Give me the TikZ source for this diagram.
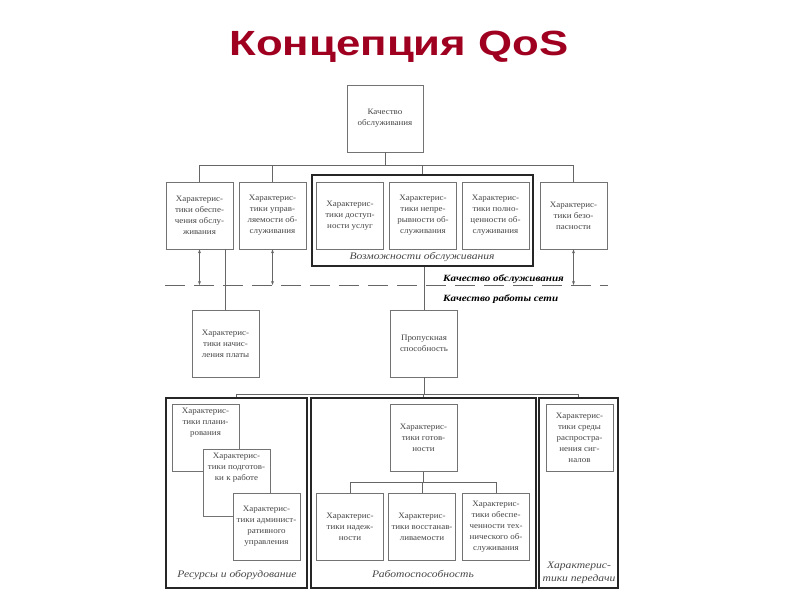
\documentclass[tikz,border=0pt]{standalone}
\usepackage{fontspec}
\setmainfont{Liberation Serif}[FakeStretch=1.16]
\newfontfamily\boxfont{Liberation Serif}[FakeStretch=1.08]
\newfontfamily\titlefont{Liberation Sans}[FakeStretch=1.25]
\usetikzlibrary{arrows.meta}
\definecolor{qosred}{RGB}{160,0,32}
\definecolor{boxtext}{RGB}{70,70,70}
\tikzset{
  box/.style={draw=black!55, line width=0.8pt, fill=white, minimum width=67pt, minimum height=67pt,
    inner sep=1pt, align=center, text=boxtext, font=\boxfont\fontsize{8.3}{11}\selectfont},
  boxtxt/.style={align=center, text=boxtext, inner sep=1pt, font=\boxfont\fontsize{8.3}{11}\selectfont},
  grp/.style={draw=black!85, line width=1.6pt, inner sep=0pt},
  link/.style={draw=black!60, line width=0.8pt},
  tag/.style={text=boxtext, align=center, font=\fontsize{10}{13}\selectfont\itshape},
  lvl/.style={anchor=west, inner sep=0pt, font=\fontsize{9.5}{11}\selectfont\bfseries\itshape},
  twoway/.style={link, {Stealth[length=4pt,width=3pt]}-{Stealth[length=4pt,width=3pt]}}
}
\begin{document}
\begin{tikzpicture}[x=1pt, y=-1pt]
  \useasboundingbox (0,0) rectangle (800,600);
  \node[text=qosred, font=\titlefont\fontsize{35}{40}\selectfont\bfseries] (title) at (399,47) {Концепция QoS};

  \node[box, minimum width=76pt] (top) at (385,118.5) {Качество\\обслуживания};

  \node[grp, minimum width=221pt, minimum height=91pt] (capgrp) at (422.5,220.5) {};
  \node[box] (r1) at (199.5,215.5) {Характерис-\\тики обеспе-\\чения обслу-\\живания};
  \node[box] (r2) at (272.5,215.5) {Характерис-\\тики управ-\\ляемости об-\\служивания};
  \node[box] (r3) at (350,215.5) {Характерис-\\тики доступ-\\ности услуг};
  \node[box] (r4) at (423,215.5) {Характерис-\\тики непре-\\рывности об-\\служивания};
  \node[box] (r5) at (495.5,215.5) {Характерис-\\тики полно-\\ценности об-\\служивания};
  \node[box] (r6) at (573.5,215.5) {Характерис-\\тики безо-\\пасности};
  \node[tag] (captag) at (422,257) {Возможности обслуживания};

  \coordinate (bus1) at (385,165);
  \draw[link] (top.south) -- (bus1);
  \draw[link] (r1.north |- bus1) -- (r6.north |- bus1);
  \foreach \n in {r1,r2,capgrp,r6} { \draw[link] (\n.north |- bus1) -- (\n.north); }

  \coordinate (dl) at (165,285);
  \coordinate (dr) at (608,285);
  \draw[link, dash pattern=on 20pt off 9pt] (dl) -- (dr);
  \node[lvl] (qserv) at (443,279) {Качество обслуживания};
  \node[lvl] (qnet) at (443,299) {Качество работы сети};
  \foreach \n in {r1,r2,r6} { \draw[twoway] (\n.south) -- (\n.south |- dl); }

  \node[box] (pay) at (225.5,343.5) {Характерис-\\тики начис-\\ления платы};
  \node[box] (bw) at (424,343.5) {Пропускная\\способность};
  \draw[link] (pay.north |- r1.south) -- (pay.north);
  \draw[link] (bw.north |- capgrp.south) -- (bw.north);

  \node[grp, minimum width=141pt, minimum height=190pt] (resgrp) at (236.5,493) {};
  \node[grp, minimum width=225pt, minimum height=190pt] (workgrp) at (423.5,493) {};
  \node[grp, minimum width=79pt, minimum height=190pt] (medgrp) at (578.5,493) {};
  \coordinate (bus2) at (424,394);
  \draw[link] (bw.south) -- (bus2);
  \draw[link] (resgrp.north |- bus2) -- (medgrp.north |- bus2);
  \foreach \g in {resgrp,workgrp,medgrp} { \draw[link] (\g.north |- bus2) -- (\g.north); }

  \node[box] (plan) at (205.5,437.5) {};
  \node[boxtxt, below=3pt] (plantxt) at (plan.north) {Характерис-\\тики плани-\\рования};
  \node[box] (prep) at (236.5,482.5) {};
  \node[boxtxt, below=3pt] (preptxt) at (prep.north) {Характерис-\\тики подготов-\\ки к работе};
  \node[box] (adm) at (266.5,526.5) {Характерис-\\тики админист-\\ративного\\управления};
  \node[tag] (restag) at (237,575) {Ресурсы и оборудование};

  \node[box] (ready) at (423.5,438) {Характерис-\\тики готов-\\ности};
  \node[box] (rel) at (350,527) {Характерис-\\тики надеж-\\ности};
  \node[box] (rec) at (422,527) {Характерис-\\тики восстанав-\\ливаемости};
  \node[box] (tech) at (496,527) {Характерис-\\тики обеспе-\\ченности тех-\\нического об-\\служивания};
  \coordinate (bus3) at (423.5,482);
  \draw[link] (ready.south) -- (bus3);
  \draw[link] (rel.north |- bus3) -- (tech.north |- bus3);
  \foreach \n in {rel,rec,tech} { \draw[link] (\n.north |- bus3) -- (\n.north); }
  \node[tag] (worktag) at (423,574) {Работоспособность};

  \node[box] (media) at (579.5,437.5) {Характерис-\\тики среды\\распростра-\\нения сиг-\\налов};
  \node[tag] (medtag) at (579,573) {Характерис-\\тики передачи};
\end{tikzpicture}
\end{document}
